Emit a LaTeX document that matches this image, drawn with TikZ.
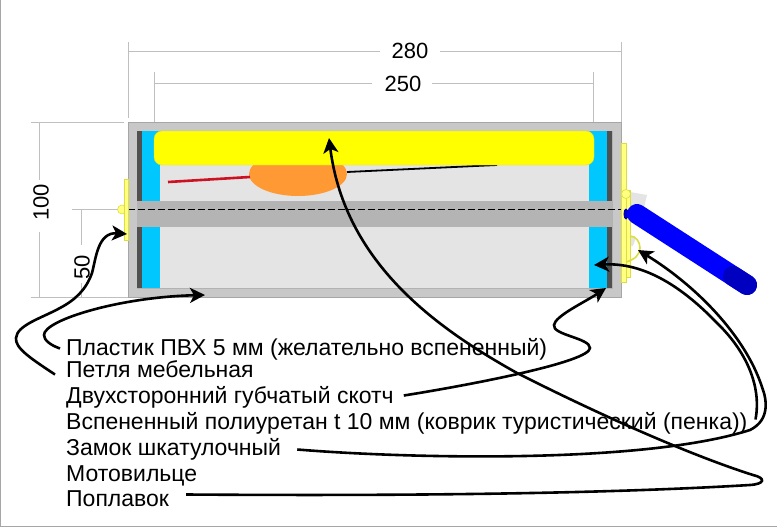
\documentclass[tikz,border=0pt]{standalone}
\usepackage{fontspec}
\setmainfont{Liberation Sans}
\usetikzlibrary{arrows.meta, positioning}
\definecolor{wallgray}{HTML}{C8C8C8}
\definecolor{innergray}{HTML}{E4E4E4}
\definecolor{bargray}{HTML}{B4B4B4}
\definecolor{darkstrip}{HTML}{505050}
\definecolor{foamblue}{HTML}{00C8FF}
\definecolor{tapeyellow}{HTML}{FFFF00}
\definecolor{floatorange}{HTML}{FF9933}
\definecolor{hingeyellow}{HTML}{FFFF80}
\definecolor{hingeedge}{HTML}{DDDD40}
\definecolor{redline}{HTML}{CC1122}
\definecolor{handleblue}{HTML}{0000FF}
\definecolor{handledark}{HTML}{0000C0}
\tikzset{
  dimline/.style={draw=black!25, line width=0.8pt},
  dimtext/.style={font=\fontsize{22}{26}\selectfont, inner sep=0pt},
  partlabel/.style={anchor=base west, font=\fontsize{23}{27}\selectfont, inner sep=0pt, text height=16pt, text depth=5pt},
  leader/.style={line width=2.6pt, -{Stealth[length=15pt,width=15pt,inset=4pt]}},
  fitting/.style={fill=hingeyellow, draw=hingeedge, line width=0.6pt},
}
\begin{document}
\begin{tikzpicture}[x=1pt,y=-1pt]
\useasboundingbox (0,0) rectangle (777,527);
\fill [white] (0,0) rectangle (777,527);
\draw [black!35, line width=1pt] (0.5,0) -- (0.5,526.5) -- (777,526.5);

%dimensions
\draw [dimline] (128,42) -- (128,118);
\draw [dimline] (621,42) -- (621,122);
\draw [dimline] (154,72) -- (154,131);
\draw [dimline] (593,72) -- (593,131);
\draw [dimline] (31,122) -- (124,122);
\draw [dimline] (31,297) -- (128,297);
\draw [dimline] (72,209.5) -- (128,209.5);
\node [dimtext] (dimouter) at (410,51) {280};
\node [dimtext] (diminner) at (403,83.5) {250};
\node [dimtext, rotate=90] (dimheight) at (41,202.5) {100};
\node [dimtext, rotate=90] (dimmiddle) at (82,267) {50};
\draw [dimline] (128,51) -- (380,51);
\draw [dimline] (440,51) -- (621,51);
\draw [dimline] (154,83) -- (372,83);
\draw [dimline] (432,83) -- (593,83);
\draw [dimline] (39,122) -- (39,180);
\draw [dimline] (39,232) -- (39,297);
\draw [dimline] (81,209.5) -- (81,245);
\draw [dimline] (81,283) -- (81,297);

%box
\filldraw [fill=wallgray, draw=black!35, line width=0.5pt] (128,122) rectangle (621,297);
\filldraw [fill=innergray, draw=black!30, line width=0.5pt] (137,131) rectangle (612,288);
\fill [floatorange] (298,174) ellipse (49 and 22);
\draw [redline, line width=2.6pt] (168,182) -- (250,177);
\draw [black, line width=1.8pt] (347,172) -- (497,165);
\fill [darkstrip] (137,131) rectangle (142,201);
\fill [darkstrip] (137,227) rectangle (142,288);
\fill [darkstrip] (607,131) rectangle (612,201);
\fill [darkstrip] (607,227) rectangle (612,288);
\fill [foamblue] (142,131) rectangle (160,201);
\fill [foamblue] (142,227) rectangle (160,288);
\fill [foamblue] (589,131) rectangle (607,201);
\fill [foamblue] (589,227) rectangle (607,288);
\fill [bargray] (137,201) rectangle (612,227);
\filldraw [fill=tapeyellow, draw=hingeedge, line width=0.4pt, rounded corners=8pt] (154,131) rectangle (594,165);
\draw [black, line width=1.5pt, dash pattern=on 7pt off 3pt] (128,209.5) -- (622,209.5);

%hinge
\filldraw [fitting] (122,209.5) circle (4.5);
\filldraw [fitting] (124,179) rectangle (128,240);

%latch
\fill [innergray] (630,192) -- (647,195) -- (643,212) -- (630,209) -- cycle;
\fill [innergray] (622,235) -- (636,237) -- (633,246) -- (622,246) -- cycle;
\filldraw [fitting] (621,143) rectangle (626,282);
\filldraw [fitting] (626,190) rectangle (630,277);
\filldraw [fitting] (626,194) circle (4.5);
\draw [hingeedge, line width=1.6pt] (630,236) .. controls (636,236) and (640,242) .. (640,248) .. controls (640,255) and (634,260) .. (626,262);

%handle
\fill [handledark] (626,214) ellipse (2.5 and 5.5);
\draw [handleblue, line width=20pt, line cap=round] (637,214) -- (747,285);
\draw [handledark, line width=20pt, line cap=round] (733,276) -- (747,285);

%parts
\node [partlabel] (plastic) at (66,355) {Пластик ПВХ 5 мм (желательно вспененный)};
\node [partlabel] (hinge) at (66,377) {Петля мебельная};
\node [partlabel] (tape) at (66,403) {Двухсторонний губчатый скотч};
\node [partlabel] (foam) at (66,429) {Вспененный полиуретан t 10 мм (коврик туристический (пенка))};
\node [partlabel] (lock) at (66,455) {Замок шкатулочный};
\node [partlabel] (reel) at (66,481) {Мотовильце};
\node [partlabel] (float) at (66,506) {Поплавок};

\coordinate (hingetip) at (127,234);
\coordinate (walltip) at (205,295);
\coordinate (tapetip) at (606,288);
\coordinate (foamtip) at (594,265);
\coordinate (locktip) at (638,250);
\coordinate (floattip) at (329,138);

\draw [leader] ([shift={(-11pt,-3pt)}]hinge.west) .. controls (30,358) and (15,348) .. (16,338) .. controls (17,325) and (42,318) .. (60,308) .. controls (75,300) and (86,290) .. (92,273) .. controls (96,258) and (98,232) .. (hingetip);
\draw [leader] ([shift={(-6pt,1pt)}]plastic.west) .. controls (50,345) and (44,340) .. (44,335) .. controls (44,320) and (120,297) .. (walltip);
\draw [leader] ([shift={(10pt,2pt)}]tape.east) .. controls (470,385) and (590,362) .. (590,348) .. controls (590,338) and (552,335) .. (554,325) .. controls (555,316) and (585,302) .. (tapetip);
\draw [leader] ([shift={(8pt,4pt)}]foam.east) .. controls (762,385) and (745,350) .. (717,323) .. controls (690,295) and (650,262) .. (foamtip);
\draw [leader] ([shift={(16pt,0pt)}]lock.east) .. controls (400,458) and (640,465) .. (750,430) .. controls (770,420) and (767,400) .. (762,387) .. controls (745,335) and (695,285) .. (locktip);
\draw [leader] ([shift={(17pt,6pt)}]float.east) .. controls (400,496) and (600,494) .. (750,485) .. controls (765,484) and (766,478) .. (753,475) .. controls (690,455) and (600,415) .. (517,373) .. controls (440,330) and (345,265) .. (floattip);
\end{tikzpicture}
\end{document}
